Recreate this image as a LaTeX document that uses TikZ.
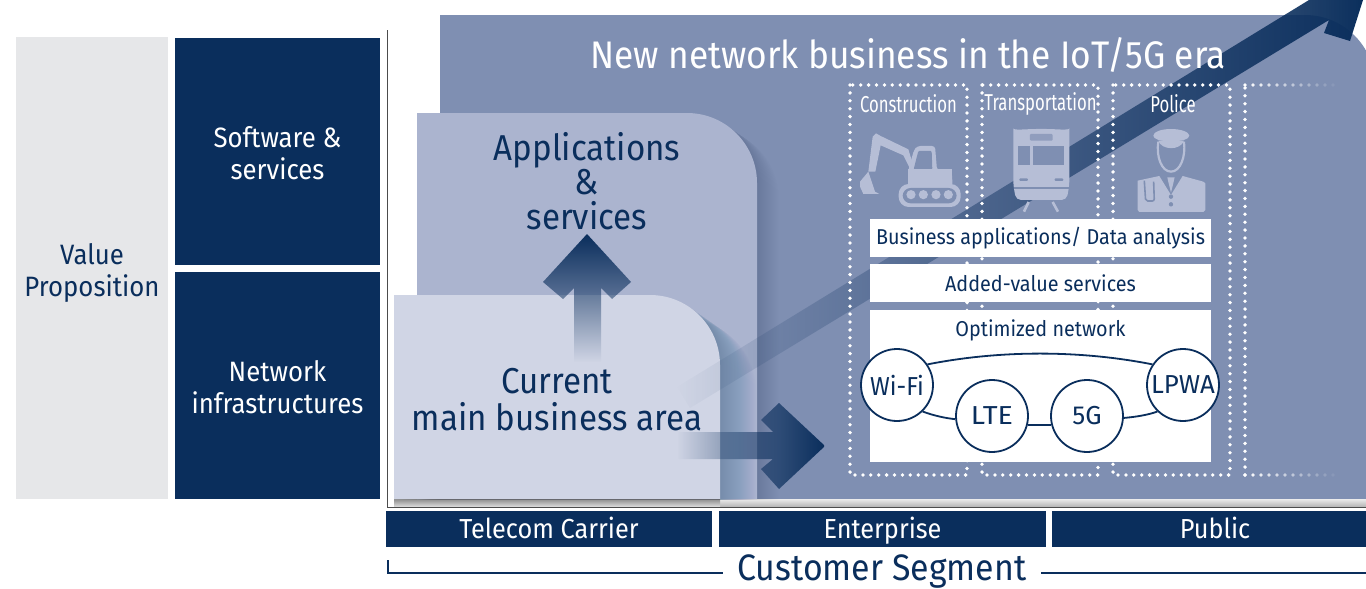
\documentclass[tikz,border=0pt]{standalone}
\usepackage{fontspec}
\setmainfont{Fira Sans}[FakeStretch=0.92]
\usetikzlibrary{fadings,calc}
\definecolor{navy}{HTML}{0A2E5C}
\definecolor{mainblue}{HTML}{7F8FB2}
\definecolor{appblue}{HTML}{ABB4CF}
\definecolor{curblue}{HTML}{D0D5E5}
\definecolor{lightgray}{HTML}{E6E7E9}
\definecolor{iconcol}{HTML}{B6BED6}
\tikzfading[name=fadeE,left color=transparent!100,right color=transparent!0]
\tikzfading[name=fadeEE,left color=transparent!100,middle color=transparent!30,right color=transparent!0]
\tikzfading[name=fadeN,bottom color=transparent!100,top color=transparent!0]
\newcommand{\fs}[2]{\fontsize{#1}{#2}\selectfont}
\tikzset{
  x=1pt,y=-1pt,
  panelbox/.style={fill=navy,inner sep=0pt,minimum width=205pt,minimum height=227pt},
  panellbl/.style={text=white,inner sep=0pt,align=center,font=\fs{28}{32}},
  whitebox/.style={fill=white,text=navy,inner sep=0pt,align=center},
  netcircle/.style={circle,draw=navy,line width=1.8pt,fill=white,text=navy,minimum size=72pt,inner sep=0pt,font=\fs{26}{28}},
  netlink/.style={draw=navy,line width=1.8pt},
  dotline/.style={draw=white,line width=3.8pt,line cap=round,dash pattern=on 0pt off 7.9pt},
  lbl/.style={text=navy,inner sep=0pt,align=center},
  sectorlbl/.style={text=white,inner sep=0pt,font=\fs{23}{25}},
  segbar/.style={fill=navy,text=white,inner sep=0pt,font=\fs{27.5}{29},text height=21pt,text depth=3pt,minimum height=36pt},
}
\begin{document}
\begin{tikzpicture}
\useasboundingbox (0,0) rectangle (1366,589);
\fill[white] (0,0) rectangle (1366,589);
% left boxes
\node[fill=lightgray,minimum width=152pt,minimum height=462pt,inner sep=0pt] (valuebox) at (92,268) {};
\node[lbl,font=\fs{28}{32}] (value) at (92,273) {Value\\Proposition};
\node[panelbox] (softbox) at (277.5,151.5) {};
\node[panellbl] (soft) at (277.5,153.5) {Software \&\\services};
\node[panelbox] (netbox) at (277.5,385.5) {};
\node[panellbl] (net) at (277.5,387.5) {Network\\infrastructures};
% main panel
\begin{scope}
\clip (0,0) rectangle (1366,589);
\fill[mainblue] (440,499) -- (440,15) -- (1305,15) arc[start angle=90,end angle=0,radius=70pt] -- (1375,499) -- cycle;
\end{scope}
% shadow band under panels
\shade[top color=black!8,bottom color=black!30] (720,499) rectangle (1366,507);
\shade[top color=black!45,bottom color=black!12] (394,499) rectangle (720,507);
% axis
\draw[black!70,line width=1pt] (387,30) -- (387,507) -- (1366,507);
% apps panel + shadow
\begin{scope}
\clip (417,100) rectangle (800,499);
\foreach \s in {1,2,...,22}{
\fill[navy,opacity=.005,xshift=\s pt,yshift=-0.7*\s pt] (417,499) -- (417,113) -- (687,113) arc[start angle=90,end angle=0,radius=70pt] -- (757,499) -- cycle;}
\end{scope}
\fill[appblue] (417,499) -- (417,113) -- (687,113) arc[start angle=90,end angle=0,radius=70pt] -- (757,499) -- cycle;
% current panel + shadow
\begin{scope}
\clip (394,280) rectangle (757,499);
\foreach \s in {1,2,...,36}{
\fill[navy,opacity=.007,xshift=\s pt,yshift=-0.7*\s pt] (394,499) -- (394,295) -- (650,295) arc[start angle=90,end angle=0,radius=70pt] -- (720,499) -- cycle;}
\end{scope}
\fill[curblue] (394,499) -- (394,295) -- (650,295) arc[start angle=90,end angle=0,radius=70pt] -- (720,499) -- cycle;
% diagonal arrow
\begin{scope}
\clip (677,387) -- (1309,0) -- (1363,0) -- (1350,41) -- (1324,33) -- (1329,20) -- (690,408) -- cycle;
\fill[navy,path fading=fadeEE] (677,-10) rectangle (1366,420);
\end{scope}
% up arrow
\begin{scope}
\clip (587,234) -- (631,282) -- (612,299) -- (601,288) -- (601,362) -- (574,362) -- (574,288) -- (563,299) -- (543,282) -- cycle;
\fill[navy,path fading=fadeN] (530,234) rectangle (650,362);
\end{scope}
% right arrow
\begin{scope}
\clip (825,446) -- (779,489) -- (761,469) -- (773,459) -- (677,459) -- (677,432) -- (773,432) -- (761,420) -- (779,403) -- cycle;
\fill[navy,path fading=fadeE] (677,395) rectangle (825,495);
\end{scope}
% panel labels
\node[text=white,inner sep=0pt,font=\fs{38.4}{39}] (title) at (908,55) {New network business in the IoT/5G era};
\node[lbl,font=\fs{36}{34.5}] (apps) at (587,181) {Applications\\\&\\services};
\node[lbl,font=\fs{36}{37}] (cur) at (557,399.5) {Current\\main business area};
% icons (reference crop coordinates, 3 units per pixel)
\begin{scope}[shift={(840,70)},x=0.3333pt,y=-0.3333pt]
 % excavator
 \fill[iconcol] (60,335) -- (85,305) -- (105,365) -- (118,372) -- (70,372) -- (60,350) -- cycle;
 \fill[iconcol] (85,305) -- (98,200) -- (108,190) -- (122,198) -- (205,238) -- (218,280) -- (208,292) -- (190,256) -- (122,226) -- (106,305) -- cycle;
 \fill[iconcol,rounded corners=3pt] (205,345) -- (205,300) -- (222,240) -- (232,228) -- (285,228) -- (291,300) -- (335,300) -- (338,350) -- cycle;
 \fill[mainblue,rounded corners=1pt] (221,298) -- (235,243) -- (275,243) -- (277,298) -- cycle;
 \fill[iconcol] (205,298) rectangle (335,350);
 \fill[iconcol,rounded corners=10pt] (176,342) rectangle (362,411);
 \fill[mainblue,rounded corners=8pt] (188,354) rectangle (350,400);
 \foreach \cx in {213,250,288,325}{\fill[iconcol] (\cx,374) circle (4.6pt);}
 % train
 \fill[iconcol,rounded corners=5pt] (520,190) .. controls (520,182) and (560,177) .. (604,177) .. controls (648,177) and (688,182) .. (688,190) -- (688,345) -- (680,390) -- (528,390) -- (520,345) -- cycle;
 \fill[mainblue] (535,228) rectangle (570,285);
 \fill[mainblue] (578,228) rectangle (672,285);
 \fill[mainblue!70!iconcol,rounded corners=1pt] (570,192) rectangle (638,212);
 \fill[mainblue,rounded corners=1pt] (538,325) rectangle (564,333);
 \fill[mainblue,rounded corners=1pt] (644,325) rectangle (670,333);
 \fill[mainblue] (522,351) rectangle (686,356);
 \draw[iconcol,line width=2.6pt] (566,396) -- (552,425);
 \draw[iconcol,line width=2.6pt] (638,396) -- (654,425);
 % police officer
 \fill[iconcol] (993,177) .. controls (1025,177) and (1048,187) .. (1048,197) .. controls (1048,207) and (1025,215) .. (993,213) .. controls (961,215) and (940,207) .. (940,197) .. controls (940,187) and (961,177) .. (993,177) -- cycle;
 \draw[iconcol,line width=2.2pt] (955,215) .. controls (948,260) and (965,305) .. (993,305) .. controls (1021,305) and (1038,260) .. (1032,215);
 \fill[iconcol] (955,212) .. controls (965,242) and (1022,242) .. (1032,212) -- cycle;
 \fill[iconcol] (893,332) -- (958,318) -- (993,375) -- (1028,318) -- (1090,335) -- (1096,340) -- (1096,420) -- (1090,426) -- (898,426) -- (893,420) -- cycle;
 \fill[iconcol] (982,322) -- (1004,322) -- (1000,340) -- (993,368) -- (986,340) -- cycle;
 \draw[mainblue,line width=1.6pt,rounded corners=2pt] (913,332) -- (917,393) -- (943,393) -- (941,335);
 \fill[mainblue] (993,380) circle (2.2pt);
 \fill[mainblue] (993,403) circle (2.2pt);
\end{scope}
% dotted sector boxes
\draw[dotline] (850,85) rectangle (967,475);
\draw[dotline] (982,85) rectangle (1098,475);
\draw[dotline] (1113,85) rectangle (1230,475);
\draw[dotline] (1245,475) -- (1245,85);
\foreach \i in {0,...,11}{
 \pgfmathsetmacro{\op}{1-\i/12}
 \pgfmathsetmacro{\xx}{1245+\i*8}
 \fill[white,opacity=\op] (\xx,85) circle (1.9pt);
 \fill[white,opacity=\op] (\xx,475) circle (1.9pt);
}
% sector labels
\node[sectorlbl] (con) at (908.5,104) {\scalebox{.79}[1]{Construction}};
\node[sectorlbl] (tra) at (1040.5,104) {\scalebox{.79}[1]{Transportation}};
\node[sectorlbl] (pol) at (1173,104) {\scalebox{.79}[1]{Police}};
% white boxes
\node[whitebox,minimum width=341pt,minimum height=38pt,font=\fs{21.5}{23}] (biz) at (1040.5,238) {Business applications/ Data analysis};
\node[whitebox,minimum width=341pt,minimum height=38pt,font=\fs{21.5}{23}] (add) at (1040.5,283) {Added-value services};
\node[whitebox,minimum width=341pt,minimum height=152pt] (opt) at (1040.5,386) {};
\node[lbl,font=\fs{21.5}{23}] (optl) at (1040.5,330) {Optimized network};
% network
\node[netcircle] (wifi) at (897,385) {Wi-Fi};
\node[netcircle] (lpwa) at (1183,385) {\scalebox{1.08}[1]{LPWA}};
\node[netcircle] (lte) at (992,416) {\scalebox{1.2}[1]{LTE}};
\node[netcircle] (fiveg) at (1087,416) {\scalebox{1.08}[1]{5G}};
\draw[netlink] (wifi.34) .. controls (1000,350) and (1080,350) .. (lpwa.146);
\draw[netlink] (wifi.-46) .. controls (935,416) and (945,418) .. (lte.185);
\draw[netlink] (lte.-14.5) -- (fiveg.194.5);
\draw[netlink] (fiveg.-3) .. controls (1135,417) and (1148,415) .. (lpwa.226);
% segment bars
\node[segbar,minimum width=326pt] (tc) at (549,529) {Telecom Carrier};
\node[segbar,minimum width=327pt] (ent) at (882.5,529) {Enterprise};
\node[segbar,minimum width=326pt] (pub) at (1215,529) {Public};
% customer segment
\node[lbl,font=\fs{36.8}{38}] (cust) at (882,572) {Customer Segment};
\coordinate (la) at (388,560);
\coordinate (lb) at (388,573);
\coordinate (lc) at (723,573);
\coordinate (ld) at (1041,573);
\coordinate (le) at (1366,573);
\draw[navy,line width=1.6pt] (la) -- (lb) -- (lc);
\draw[navy,line width=1.6pt] (ld) -- (le);
\end{tikzpicture}
\end{document}
